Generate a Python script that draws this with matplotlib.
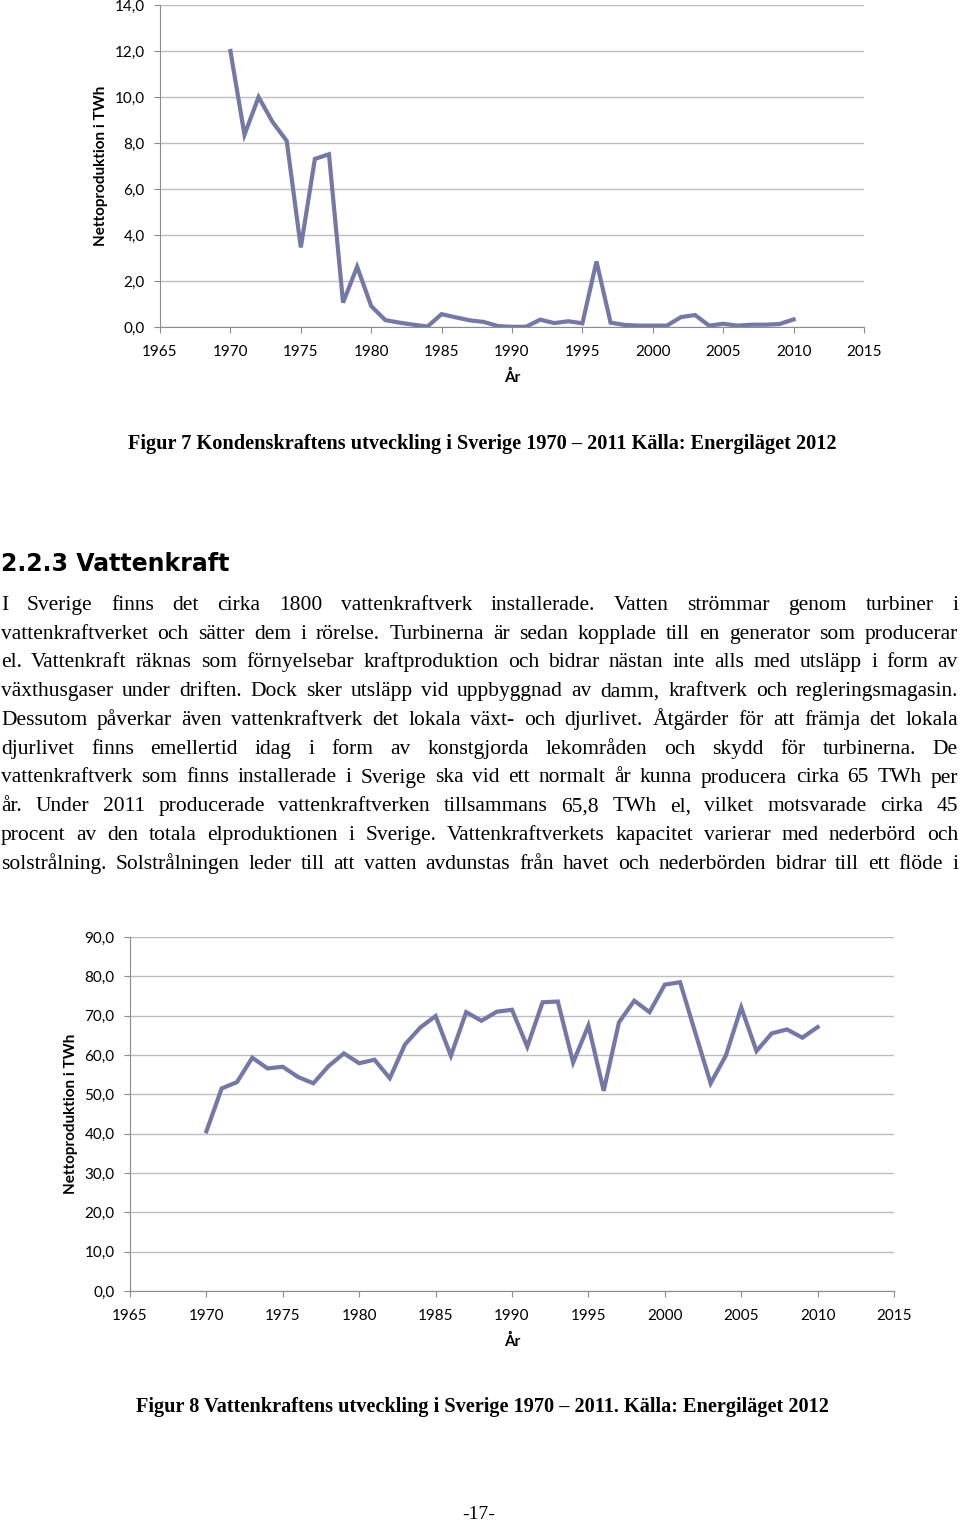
import numpy as np
import matplotlib.pyplot as plt
from matplotlib.ticker import FuncFormatter, MultipleLocator

# data read from the page
years = list(range(1970, 2011))
kondens = [12.0, 8.36, 10.0, 8.91, 8.09, 3.46, 7.31, 7.51, 1.06, 2.62,
           0.91, 0.30, 0.19, 0.10, 0.02, 0.56, 0.42, 0.29, 0.22, 0.04,
           0.01, 0.01, 0.32, 0.17, 0.25, 0.16, 2.85, 0.19, 0.09, 0.06,
           0.06, 0.06, 0.43, 0.52, 0.06, 0.14, 0.06, 0.10, 0.10, 0.13,
           0.33]
vatten = [40.6, 51.5, 53.1, 59.3, 56.6, 57.0, 54.4, 52.8, 57.2, 60.4,
          57.9, 58.8, 54.1, 62.7, 67.0, 69.9, 59.8, 70.9, 68.7, 71.0,
          71.5, 62.1, 73.4, 73.6, 58.1, 67.5, 50.9, 68.3, 73.8, 70.9,
          77.9, 78.5, 65.6, 52.8, 59.9, 72.1, 61.0, 65.5, 66.5, 64.4,
          67.1]

xticks = list(range(1965, 2020, 5))
ylabel = "Nettoproduktion i TWh"
xlabel = "År"
caption7 = "Figur 7 Kondenskraftens utveckling i Sverige 1970 – 2011 Källa: Energiläget 2012"
caption8 = "Figur 8 Vattenkraftens utveckling i Sverige 1970 – 2011. Källa: Energiläget 2012"
heading = "2.2.3 Vattenkraft"
body = [
    "I Sverige finns det cirka 1800 vattenkraftverk installerade. Vatten strömmar genom turbiner i",
    "vattenkraftverket och sätter dem i rörelse. Turbinerna är sedan kopplade till en generator som producerar",
    "el. Vattenkraft räknas som förnyelsebar kraftproduktion och bidrar nästan inte alls med utsläpp i form av",
    "växthusgaser under driften. Dock sker utsläpp vid uppbyggnad av damm, kraftverk och regleringsmagasin.",
    "Dessutom påverkar även vattenkraftverk det lokala växt- och djurlivet. Åtgärder för att främja det lokala",
    "djurlivet finns emellertid idag i form av konstgjorda lekområden och skydd för turbinerna. De",
    "vattenkraftverk som finns installerade i Sverige ska vid ett normalt år kunna producera cirka 65 TWh per",
    "år. Under 2011 producerade vattenkraftverken tillsammans 65,8 TWh el, vilket motsvarade cirka 45",
    "procent av den totala elproduktionen i Sverige. Vattenkraftverkets kapacitet varierar med nederbörd och",
    "solstrålning. Solstrålningen leder till att vatten avdunstas från havet och nederbörden bidrar till ett flöde i",
]
page = "-17-"

W, H = 960, 1523
LINE = "#7478a8"
GRID = "#bdbdbd"
AXC = "#8c8c8c"
TICKFONT = "Lato"

fig = plt.figure(figsize=(W / 100, H / 100), dpi=100)


def px(x, y):
    return x / W, 1 - y / H


def comma(v, pos):
    return f"{v:.1f}".replace(".", ",")


def chart(rect, data, ymax, ystep):
    ax = fig.add_axes(rect)
    ax.plot(years, data, color=LINE, lw=3.0, solid_joinstyle="miter")
    ax.set_xlim(1965, 2015)
    ax.set_ylim(0, ymax)
    ax.set_xticks(xticks)
    ax.yaxis.set_major_locator(MultipleLocator(ystep))
    ax.yaxis.set_major_formatter(FuncFormatter(comma))
    ax.grid(axis="y", color=GRID, lw=1.0)
    ax.set_axisbelow(True)
    for s in ["top", "right"]:
        ax.spines[s].set_visible(False)
    for s in ["left", "bottom"]:
        ax.spines[s].set_color(AXC)
        ax.spines[s].set_linewidth(0.8)
    ax.tick_params(axis="both", colors=AXC, labelcolor="black", length=4,
                   width=0.8, labelsize=11)
    ax.tick_params(axis="x", pad=9)
    ax.tick_params(axis="y", pad=7)
    for lab in ax.get_xticklabels() + ax.get_yticklabels():
        lab.set_fontfamily(TICKFONT)
    ax.set_xlabel(xlabel, fontsize=11, fontweight="bold", fontfamily=TICKFONT, labelpad=8)
    ax.set_ylabel(ylabel, fontsize=11, fontweight="bold", fontfamily=TICKFONT, labelpad=5)
    return ax


ax1 = chart([160 / W, 1 - 327 / H, 704 / W, 322 / H], kondens, 14, 2)
ax2 = chart([130 / W, 1 - 1291 / H, 764 / W, 354 / H], vatten, 90, 10)

serif = "Liberation Serif"
fig.text(*px(482, 449), caption7, ha="center", va="baseline",
         fontsize=14.6, fontweight="bold", fontfamily=serif)
fig.text(*px(482, 1412), caption8, ha="center", va="baseline",
         fontsize=14.6, fontweight="bold", fontfamily=serif)
fig.text(*px(1, 571), heading, ha="left", va="baseline",
         fontsize=17, fontweight="bold", fontfamily="DejaVu Sans")
fig.text(*px(479, 1519), page, ha="center", va="baseline",
         fontsize=14, fontfamily=serif)

# justified body text
renderer = fig.canvas.get_renderer()
left, right = 1, 958
fs = 15.5
space = fig.text(0, 0, "a a", fontsize=fs, fontfamily=serif)
aa = fig.text(0, 0, "aa", fontsize=fs, fontfamily=serif)
sp_w = space.get_window_extent(renderer).width - aa.get_window_extent(renderer).width
space.remove()
aa.remove()

widths = []
for line in body:
    ws = []
    for w in line.split():
        t = fig.text(0, 0, w, fontsize=fs, fontfamily=serif)
        ws.append(t.get_window_extent(renderer).width)
        t.remove()
    widths.append(ws)
natural = max(sum(ws) + 0.55 * sp_w * (len(ws) - 1) for ws in widths)
scale = min(1.0, (right - left) / natural)
fs = fs * scale

y0, dy = 610, 28.75
for i, line in enumerate(body):
    words = line.split()
    ws = [w * scale for w in widths[i]]
    gap = (right - left - sum(ws)) / (len(words) - 1)
    x = left
    for w, wd in zip(words, ws):
        fig.text(*px(x, y0 + i * dy), w, fontsize=fs, fontfamily=serif,
                 ha="left", va="baseline")
        x += wd + gap

fig.savefig("out.png", dpi=100)
